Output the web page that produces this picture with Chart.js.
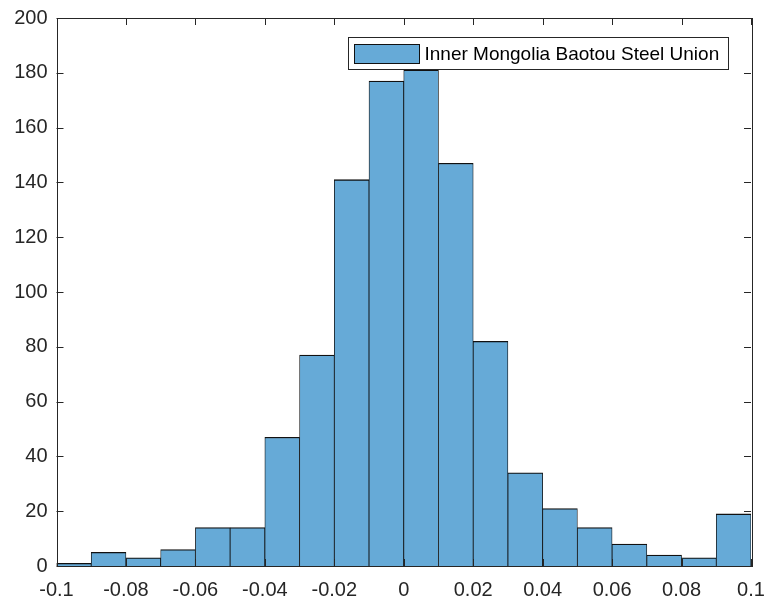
<!DOCTYPE html>
<html>
<head>
<meta charset="utf-8">
<script src="https://cdn.jsdelivr.net/npm/chart.js@4/dist/chart.umd.min.js"></script>
<style>
  html, body { margin: 0; padding: 0; background: #fff; }
  #wrap { width: 767px; height: 607px; }
</style>
</head>
<body>
<div id="wrap"><canvas id="histChart"></canvas></div>
<script>
const binLabels = [
  "-0.10", "-0.09", "-0.08", "-0.07", "-0.06", "-0.05", "-0.04", "-0.03", "-0.02", "-0.01",
  "0.00", "0.01", "0.02", "0.03", "0.04", "0.05", "0.06", "0.07", "0.08", "0.09"
];
const binCounts = [1, 5, 3, 6, 14, 14, 47, 77, 141, 177, 181, 147, 82, 34, 21, 14, 8, 4, 3, 19];
const xTickValues = [-0.1, -0.08, -0.06, -0.04, -0.02, 0, 0.02, 0.04, 0.06, 0.08, 0.1];
const yTickValues = [0, 20, 40, 60, 80, 100, 120, 140, 160, 180, 200];
const seriesName = "Inner Mongolia Baotou Steel Union";

const faceColor = "rgb(102,170,215)";
const edgeColor = "#111";
const axisColor = "#262626";
const fontFamily = "Arial, 'Liberation Sans', sans-serif";

// MATLAB style box with inward ticks + legend inside the axes
const matlabAxes = {
  id: "matlabAxes",
  afterDraw(chart) {
    const ctx = chart.ctx;
    const a = chart.chartArea;
    const xs = chart.scales.x, ys = chart.scales.y;
    const tl = 7;
    ctx.save();
    ctx.strokeStyle = axisColor;
    ctx.lineWidth = 1;
    ctx.beginPath();
    yTickValues.forEach(v => {
      const py = Math.round(ys.getPixelForValue(v)) + 0.5;
      ctx.moveTo(a.left, py); ctx.lineTo(a.left + tl, py);
      ctx.moveTo(a.right, py); ctx.lineTo(a.right - tl, py);
    });
    xTickValues.forEach(v => {
      const px = Math.round(xs.getPixelForValue(v)) + 0.5;
      ctx.moveTo(px, a.bottom); ctx.lineTo(px, a.bottom - tl);
      ctx.moveTo(px, a.top); ctx.lineTo(px, a.top + tl);
    });
    ctx.stroke();
    ctx.strokeRect(Math.round(a.left) + 0.5, Math.round(a.top) + 0.5,
      Math.round(a.right - a.left), Math.round(a.bottom - a.top));

    // legend
    const lx = Math.round(a.right) - 402.5, ly = 37.5, lw = 380, lh = 32;
    ctx.fillStyle = "#fff";
    ctx.fillRect(lx, ly, lw, lh);
    ctx.strokeRect(lx, ly, lw, lh);
    ctx.fillStyle = faceColor;
    ctx.fillRect(lx + 6, ly + 7, 65, 19);
    ctx.strokeStyle = edgeColor;
    ctx.strokeRect(lx + 6, ly + 7, 65, 19);
    ctx.fillStyle = "#000";
    ctx.font = "19px " + fontFamily;
    ctx.textBaseline = "middle";
    ctx.fillText(seriesName, lx + 76, ly + 17);
    ctx.restore();
  }
};

new Chart(document.getElementById("histChart"), {
  type: "bar",
  data: {
    labels: binLabels,
    datasets: [{
      label: seriesName,
      data: binCounts,
      xAxisID: "xb",
      backgroundColor: faceColor,
      borderColor: edgeColor,
      borderWidth: { top: 1.3, left: 0.8, right: 0.8, bottom: 0 },
      borderSkipped: false,
      barPercentage: 1,
      categoryPercentage: 1
    }]
  },
  options: {
    responsive: true,
    maintainAspectRatio: false,
    animation: false,
    layout: { padding: { left: 0, right: 16, top: 18, bottom: 0 } },
    plugins: { legend: { display: false }, tooltip: { enabled: false } },
    scales: {
      xb: { type: "category", display: false, offset: true },
      x: {
        type: "linear", position: "bottom", min: -0.1, max: 0.1, offset: false,
        afterBuildTicks: s => { s.ticks = xTickValues.map(v => ({ value: v })); },
        afterFit: s => { s.height = 41; s.paddingLeft = 0; s.paddingRight = 0; },
        grid: { display: false, drawTicks: false, offset: false },
        border: { display: false },
        ticks: {
          padding: 12, color: axisColor, maxRotation: 0, autoSkip: false,
          font: { family: fontFamily, size: 20 },
          callback: v => String(Number(v.toFixed(2)))
        }
      },
      y: {
        min: 0, max: 200,
        afterBuildTicks: s => { s.ticks = yTickValues.map(v => ({ value: v })); },
        afterFit: s => { s.width = 56.5; s.paddingTop = 0; s.paddingBottom = 0; },
        grid: { display: false, drawTicks: false },
        border: { display: false },
        ticks: {
          padding: 9, color: axisColor,
          font: { family: fontFamily, size: 20 }
        }
      }
    }
  },
  plugins: [matlabAxes]
});
</script>
</body>
</html>
